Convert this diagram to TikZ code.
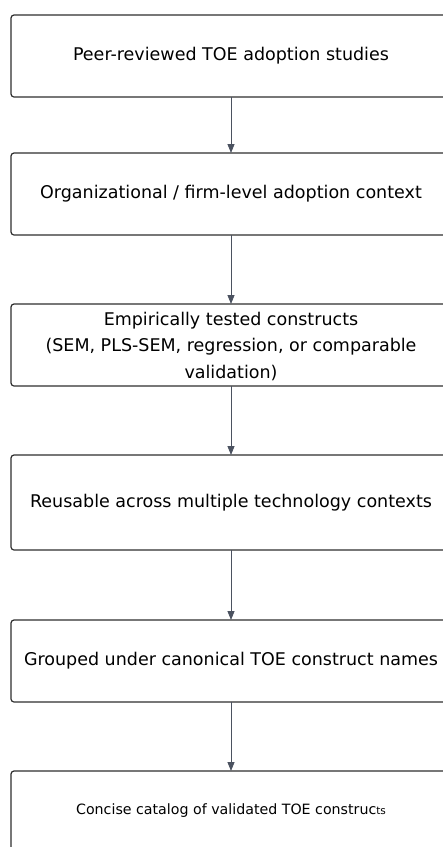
\documentclass[tikz,border=0pt]{standalone}
\usepackage{fontspec}
\setmainfont{DejaVu Sans}
\usetikzlibrary{arrows.meta}
\definecolor{boxline}{HTML}{2F2F2F}
\definecolor{arrowc}{HTML}{4B5260}
\begin{document}
\begin{tikzpicture}[x=1pt,y=-1pt,
  flowbox/.style={draw=boxline, line width=1.2pt, rounded corners=3pt},
  flowtext/.style={font=\fontsize{17.5}{26.5}\selectfont, align=center, inner sep=0pt},
  flowarrow/.style={draw=arrowc, line width=0.8pt, -{Triangle[width=7pt,length=9pt]}}]
\useasboundingbox (0,0) rectangle (443,847);
\fill[white] (0,0) rectangle (443,847);
\path[flowbox] (11,15) rectangle (451,97);
\node[flowtext] (b1) at (231,56) {Peer-reviewed TOE adoption studies};
\path[flowbox] (11,153) rectangle (451,235);
\node[flowtext] (b2) at (231,194) {Organizational / firm-level adoption context};
\path[flowbox] (11,304) rectangle (451,386);
\node[flowtext] (b3) at (231,346) {Empirically tested constructs\\(SEM, PLS-SEM, regression, or comparable\\validation)};
\path[flowbox] (11,455) rectangle (451,550);
\node[flowtext] (b4) at (231,503) {Reusable across multiple technology contexts};
\path[flowbox] (11,620) rectangle (451,702);
\node[flowtext] (b5) at (231,661) {Grouped under canonical TOE construct names};
\path[flowbox] (11,771) rectangle (451,870);
\node[flowtext, font=\fontsize{14.2}{20}\selectfont] (b6) at (231,811) {Concise catalog of validated TOE construc{\fontsize{10.5}{12}\selectfont ts}};
\coordinate (a1s) at (231,97); \coordinate (a1e) at (231,153);
\coordinate (a2s) at (231,235); \coordinate (a2e) at (231,304);
\coordinate (a3s) at (231,386); \coordinate (a3e) at (231,455);
\coordinate (a4s) at (231,550); \coordinate (a4e) at (231,620);
\coordinate (a5s) at (231,702); \coordinate (a5e) at (231,771);
\draw[flowarrow] (a1s) -- (a1e);
\draw[flowarrow] (a2s) -- (a2e);
\draw[flowarrow] (a3s) -- (a3e);
\draw[flowarrow] (a4s) -- (a4e);
\draw[flowarrow] (a5s) -- (a5e);
\end{tikzpicture}
\end{document}
